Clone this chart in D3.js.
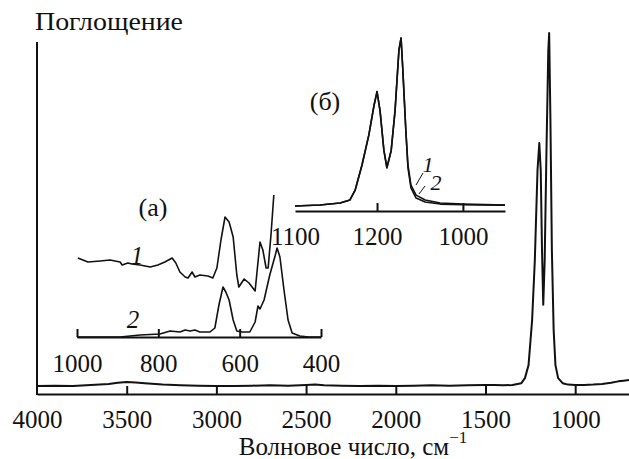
<!DOCTYPE html>
<html>
<head>
<meta charset="utf-8">
<script src="https://cdn.jsdelivr.net/npm/d3@7"></script>
<style>
  html, body { margin: 0; padding: 0; background: #fff; }
</style>
</head>
<body>
<svg id="chart" width="629" height="459"></svg>
<script>
// ---------- DATA ----------
const mainWn  = [4000, 3900, 3800, 3700, 3600, 3550, 3500, 3450, 3400, 3300, 3200, 3100, 3000, 2900, 2800, 2700, 2600, 2500, 2450, 2400, 2300, 2200, 2100, 2000, 1900, 1800, 1700, 1600, 1500, 1450, 1400, 1350, 1300, 1280, 1260, 1240, 1225, 1210, 1200, 1192, 1185, 1178, 1170, 1160, 1150, 1145, 1138, 1130, 1120, 1110, 1095, 1070, 1040, 1000, 950, 900, 850, 800, 760, 730, 700];
const mainAbs = [0.022, 0.023, 0.022, 0.025, 0.028, 0.031, 0.033, 0.032, 0.030, 0.026, 0.024, 0.023, 0.022, 0.022, 0.023, 0.024, 0.023, 0.025, 0.026, 0.024, 0.023, 0.022, 0.023, 0.022, 0.023, 0.024, 0.023, 0.024, 0.025, 0.025, 0.024, 0.025, 0.030, 0.044, 0.080, 0.205, 0.370, 0.620, 0.695, 0.620, 0.400, 0.247, 0.370, 0.675, 0.950, 1.000, 0.760, 0.400, 0.177, 0.080, 0.044, 0.030, 0.026, 0.025, 0.025, 0.026, 0.028, 0.031, 0.035, 0.037, 0.039];
const mainTicks = [4000, 3500, 3000, 2500, 2000, 1500, 1000];

const insetAWn1  = [998, 973, 943, 919, 894, 889, 875, 865, 845, 820, 801, 784, 766, 757, 747, 734, 727, 717, 710, 698, 678, 666, 656, 646, 636, 626, 616, 607, 602, 589, 577, 562, 550, 543, 535, 530, 523, 516];
const insetAAbs1 = [0.79, 0.75, 0.76, 0.77, 0.75, 0.72, 0.74, 0.73, 0.72, 0.70, 0.72, 0.75, 0.79, 0.74, 0.65, 0.60, 0.59, 0.65, 0.60, 0.62, 0.61, 0.59, 0.69, 0.97, 1.20, 1.15, 1.00, 0.62, 0.50, 0.58, 0.54, 0.46, 0.95, 0.87, 0.69, 0.69, 1.02, 1.42];
const insetAWn2  = [1000, 894, 845, 796, 771, 747, 734, 722, 710, 698, 673, 661, 651, 641, 634, 626, 616, 607, 594, 575, 562, 555, 550, 540, 526, 513, 508, 501, 491, 481, 471, 452, 430, 400];
const insetAAbs2 = [0.00, 0.00, 0.02, 0.03, 0.06, 0.05, 0.07, 0.06, 0.07, 0.05, 0.05, 0.09, 0.32, 0.50, 0.45, 0.37, 0.17, 0.06, 0.05, 0.05, 0.15, 0.31, 0.28, 0.37, 0.62, 0.81, 0.89, 0.80, 0.47, 0.17, 0.04, 0.01, 0.00, 0.00];
const insetATicks = [1000, 800, 600, 400];

const insetBWn   = [1391, 1333, 1286, 1263, 1251, 1235, 1219, 1207, 1200, 1193, 1184, 1177, 1167, 1158, 1149, 1144, 1140, 1133, 1128, 1121, 1109, 1088, 1053, 1000, 950, 902];
const insetBAbs1 = [0.029, 0.035, 0.046, 0.064, 0.12, 0.266, 0.44, 0.61, 0.69, 0.58, 0.35, 0.25, 0.35, 0.58, 0.93, 1.00, 0.82, 0.47, 0.266, 0.15, 0.092, 0.064, 0.046, 0.040, 0.037, 0.035];
const insetBAbs2 = [0.029, 0.035, 0.046, 0.064, 0.12, 0.266, 0.44, 0.61, 0.69, 0.58, 0.35, 0.25, 0.35, 0.58, 0.93, 1.00, 0.82, 0.47, 0.25, 0.133, 0.075, 0.052, 0.040, 0.036, 0.035, 0.034];
const insetBTicks = [1391, 1200, 1000];
const insetBTickLabels = ["1100", "1200", "1000"];

const yLabel = "Поглощение";
const xLabel = "Волновое число, см";
const xLabelSup = "−1";

// ---------- DRAW ----------
const svg = d3.select("#chart");
const FAMILY = "Liberation Serif";
const FONT = 25;
const INK = "#111";

function fontify(sel, size) {
  sel.attr("font-family", FAMILY).attr("font-size", size)
     .style("font-family", "'" + FAMILY + "'").style("font-size", size + "px");
  return sel;
}

function txt(x, y, s, size, opts = {}) {
  const t = svg.append("text").attr("x", x).attr("y", y).attr("fill", INK)
    .attr("text-anchor", opts.anchor || "start").text(s);
  fontify(t, size);
  if (opts.italic) t.attr("font-style", "italic").style("font-style", "italic");
  if (opts.len) t.attr("textLength", opts.len).attr("lengthAdjust", "spacingAndGlyphs");
  return t;
}

const x = d3.scaleLinear().domain([4000, 700]).range([37, 629]);
const y = d3.scaleLinear().domain([0, 1]).range([394, 33]);
const line = (xs, ys) => d3.line().x(d => xs(d[0])).y(d => ys(d[1]));

function styleAxis(g, labelY) {
  g.attr("font-family", FAMILY).attr("font-size", FONT);
  g.select(".domain").attr("stroke", INK).attr("stroke-width", 2);
  g.selectAll(".tick line").attr("stroke", INK).attr("stroke-width", 2);
  const t = g.selectAll(".tick text").attr("y", labelY).attr("dy", null).attr("fill", INK);
  fontify(t, FONT);
}

const xAxis = d3.axisBottom(x).tickValues(mainTicks).tickSizeInner(-8).tickSizeOuter(0).tickFormat(d3.format("d"));
const gx = svg.append("g").attr("transform", "translate(0,394)").call(xAxis);
styleAxis(gx, 34);
gx.selectAll(".tick").filter(d => d === 4000).select("line").remove();

svg.append("line").attr("x1", 37).attr("x2", 37).attr("y1", 42).attr("y2", 395)
  .attr("stroke", INK).attr("stroke-width", 2);

txt(35, 30, yLabel, FONT, { len: 148 });

// x-axis title with superscript in one text element
const xt = txt(353, 455, "", FONT, { anchor: "middle" });
xt.append("tspan").text(xLabel);
xt.append("tspan").attr("dy", -12).attr("font-size", 17).style("font-size", "17px").text(xLabelSup);

svg.append("path").datum(d3.zip(mainWn, mainAbs))
  .attr("d", line(x, y)).attr("fill", "none").attr("stroke", INK).attr("stroke-width", 2).attr("stroke-linejoin", "round");

// Inset (а)
const xa = d3.scaleLinear().domain([1000, 400]).range([77, 321]);
const ya = d3.scaleLinear().domain([0, 1]).range([337, 237]);
const axA = d3.axisBottom(xa).tickValues(insetATicks).tickSizeInner(-8).tickSizeOuter(0).tickFormat(d3.format("d"));
const ga = svg.append("g").attr("transform", "translate(0,337)").call(axA);
styleAxis(ga, 35);

svg.append("path").datum(d3.zip(insetAWn1, insetAAbs1))
  .attr("d", line(xa, ya)).attr("fill", "none").attr("stroke", INK).attr("stroke-width", 1.6).attr("stroke-linejoin", "round");
svg.append("path").datum(d3.zip(insetAWn2, insetAAbs2))
  .attr("d", line(xa, ya)).attr("fill", "none").attr("stroke", INK).attr("stroke-width", 1.6).attr("stroke-linejoin", "round");

txt(153, 216, "(а)", 26, { anchor: "middle" });
txt(137, 264, "1", FONT, { anchor: "middle", italic: true });
txt(133, 328, "2", FONT, { anchor: "middle", italic: true });

// Inset (б)
const xb = d3.scaleLinear().domain([1391, 902]).range([295, 505]);
const yb = d3.scaleLinear().domain([0, 1]).range([211, 38]);
const axB = d3.axisBottom(xb).tickValues(insetBTicks).tickSizeInner(-8).tickSizeOuter(0)
  .tickFormat((d, i) => insetBTickLabels[i]);
const gb = svg.append("g").attr("transform", "translate(0,211)").call(axB);
styleAxis(gb, 34);
gb.selectAll(".tick").filter(d => d === 1391).select("line").remove();

svg.append("path").datum(d3.zip(insetBWn, insetBAbs1))
  .attr("d", line(xb, yb)).attr("fill", "none").attr("stroke", INK).attr("stroke-width", 1.6).attr("stroke-linejoin", "round");
svg.append("path").datum(d3.zip(insetBWn, insetBAbs2))
  .attr("d", line(xb, yb)).attr("fill", "none").attr("stroke", INK).attr("stroke-width", 1.6).attr("stroke-linejoin", "round");

txt(325, 110, "(б)", 26, { anchor: "middle" });
txt(428, 172, "1", 22, { anchor: "middle", italic: true });
txt(436, 190, "2", 22, { anchor: "middle", italic: true });
svg.append("line").attr("x1", 416).attr("y1", 185).attr("x2", 423).attr("y2", 173).attr("stroke", INK).attr("stroke-width", 1);
svg.append("line").attr("x1", 419).attr("y1", 194).attr("x2", 425).attr("y2", 186).attr("stroke", INK).attr("stroke-width", 1);
</script>
</body>
</html>
